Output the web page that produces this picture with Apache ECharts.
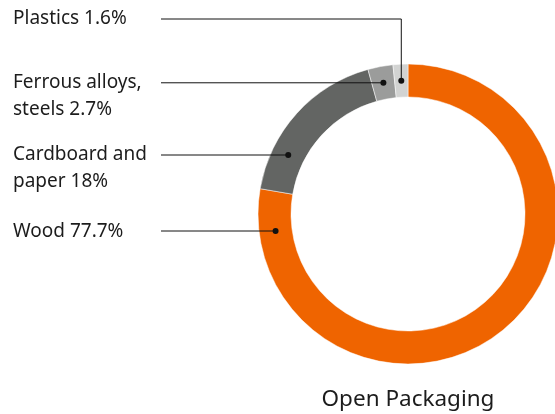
<!DOCTYPE html>
<html><head><meta charset="utf-8">
<script src="https://cdn.jsdelivr.net/npm/echarts@6/dist/echarts.min.js"></script>
<style>html,body{margin:0;padding:0;background:#fff}#c{width:555px;height:414px}</style>
</head><body><div id="c"></div>
<script>
// ---- data ----
const categories = ['Wood', 'Cardboard and paper', 'Ferrous alloys, steels', 'Plastics'];
const values = [77.7, 18, 2.7, 1.6];
const labelTexts = ['Wood 77.7%', 'Cardboard and\npaper 18%', 'Ferrous alloys,\nsteels 2.7%', 'Plastics 1.6%'];
const chartTitle = 'Open Packaging';

// ---- styling / layout ----
const colors = ['#ef6400', '#636563', '#9b9c9b', '#d2d3d2'];
const labelLineY = [231, 155, 84, 19];
const dotMode = ['ring', 'ring', 'mid', 'mid'];
const LABEL_X = 13, LINE_X0 = 161, LINE_H = 27;
const FONT = '"Noto Sans", "Open Sans", sans-serif';
const TEXT_COLOR = '#1c1c1c';
const LINE_COLOR = '#111';

const chart = echarts.init(document.getElementById('c'), null, { renderer: 'canvas' });

function dotPoint(i) {
  const lay = chart.getModel().getSeriesByIndex(0).getData().getItemLayout(i);
  const rm = (lay.r + lay.r0) / 2;
  if (dotMode[i] === 'mid') {
    const a = (lay.startAngle + lay.endAngle) / 2;
    return [lay.cx + rm * Math.cos(a), lay.cy + rm * Math.sin(a)];
  }
  const dy = labelLineY[i] - lay.cy;
  return [lay.cx - Math.sqrt(rm * rm - dy * dy), labelLineY[i]];
}
function leaderPoints(i) {
  const d = dotPoint(i);
  if (dotMode[i] === 'mid' && labelLineY[i] < d[1] - 10) {
    return { y: labelLineY[i], pts: [d, [d[0], labelLineY[i]], [LINE_X0, labelLineY[i]]] };
  } else if (dotMode[i] === 'mid') {
    return { y: d[1], pts: [d, [LINE_X0, d[1]]] };
  }
  return { y: labelLineY[i], pts: [d, [LINE_X0, labelLineY[i]]] };
}

chart.setOption({
  animation: false,
  backgroundColor: '#fff',
  series: [{
    type: 'pie',
    center: [408, 214],
    radius: [117, 150],
    startAngle: 90,
    clockwise: true,
    avoidLabelOverlap: false,
    emphasis: { disabled: true },
    itemStyle: { borderColor: '#fff', borderWidth: 0.5 },
    label: {
      show: true,
      position: 'outside',
      formatter: (p) => labelTexts[p.dataIndex],
      fontFamily: FONT,
      fontSize: 19,
      lineHeight: LINE_H,
      color: TEXT_COLOR
    },
    labelLine: { show: false },
    labelLayout: function (params) {
      const lp = leaderPoints(params.dataIndex);
      return {
        x: LABEL_X,
        y: lp.y - LINE_H / 2 + (params.dataIndex === 0 ? 1 : 0),
        align: 'left',
        verticalAlign: 'top'
      };
    },
    data: categories.map((c, i) => ({ name: c, value: values[i], itemStyle: { color: colors[i] } }))
  }]
});

const graphics = [];
categories.forEach((c, i) => {
  const lp = leaderPoints(i);
  graphics.push({ type: 'polyline', shape: { points: lp.pts }, style: { stroke: LINE_COLOR, lineWidth: 1, fill: null }, z: 100 });
  graphics.push({ type: 'circle', shape: { cx: lp.pts[0][0], cy: lp.pts[0][1], r: 3 }, style: { fill: LINE_COLOR }, z: 101 });
});
graphics.push({
  type: 'text', x: 408, y: 400, z: 100,
  style: { text: chartTitle, fontFamily: FONT, fontSize: 22.5, fill: TEXT_COLOR, align: 'center', verticalAlign: 'middle' }
});
chart.setOption({ graphic: graphics });
</script>
</body></html>
